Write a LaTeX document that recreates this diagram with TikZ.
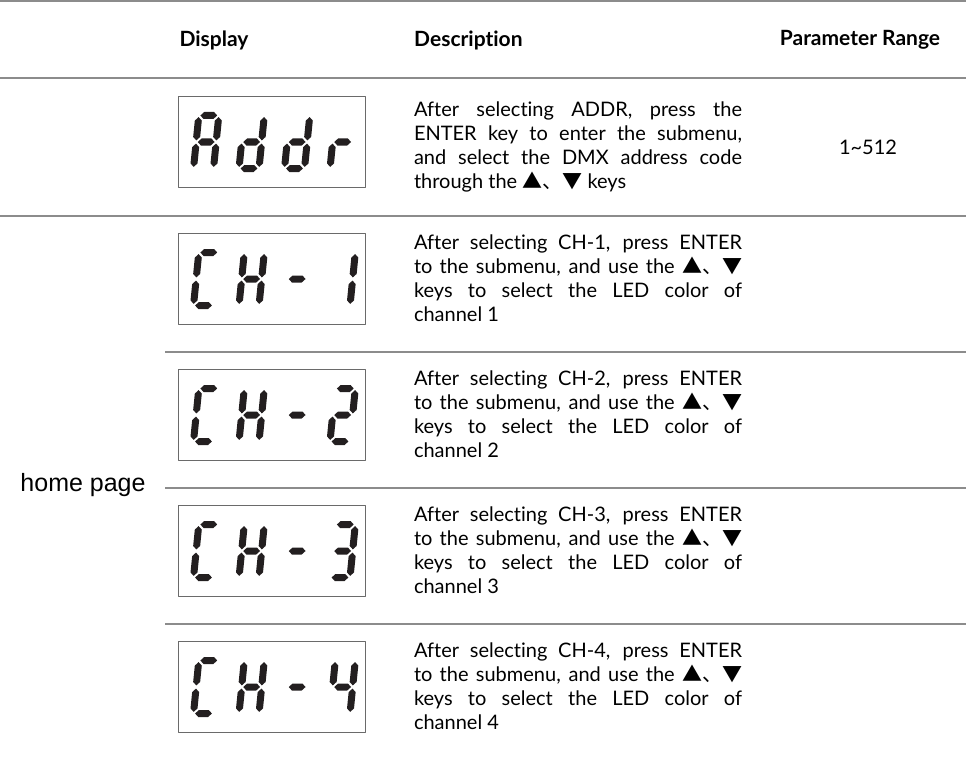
\documentclass[tikz,border=0pt]{standalone}
\usepackage{fontspec}
\setmainfont{Liberation Sans}
\newfontfamily\lat[Ligatures={NoCommon,NoContextual}]{Lato}
\newfontfamily\cjk{Noto Sans CJK SC}
\usepackage{xcolor}
\usetikzlibrary{positioning}

\definecolor{rulegray}{HTML}{8C8C8C}
\definecolor{boxgray}{HTML}{6A6A6A}
\definecolor{segink}{HTML}{231F20}

\newcommand\descfont{\lat\fontsize{20}{24}\selectfont\tolerance=10000 \hbadness=10000 }
\newcommand\updown{{\cjk ▲、▼}}

% one segment: lying (x1, x2, y) or standing (x, y1, y2)
\newcommand\lcdh[3]{\fill[lcdseg] (#1,#3) -- (#1+3.5,#3+3.5) -- (#2-3.5,#3+3.5) -- (#2,#3) -- (#2-3.5,#3-3.5) -- (#1+3.5,#3-3.5) -- cycle;}
\newcommand\lcdv[3]{\fill[lcdseg] (#1,#2) -- (#1+3.5,#2+3.5) -- (#1+3.5,#3-3.5) -- (#1,#3) -- (#1-3.5,#3-3.5) -- (#1-3.5,#2+3.5) -- cycle;}

% the seven segments a--g
\newcommand\lcdsega{\lcdh{1.6}{18.4}{53}}
\newcommand\lcdsegb{\lcdv{20}{28.1}{51.4}}
\newcommand\lcdsegc{\lcdv{20}{1.6}{24.9}}
\newcommand\lcdsegd{\lcdh{1.6}{18.4}{0}}
\newcommand\lcdsege{\lcdv{0}{1.6}{24.9}}
\newcommand\lcdsegf{\lcdv{0}{28.1}{51.4}}
\newcommand\lcdsegg{\lcdh{1.6}{18.4}{26.5}}

% one digit, lower left corner at (#1,#2)
\newcommand\lcdchar[3]{%
  \begin{scope}[shift={(#1,#2)}, yscale=-1, xslant=-0.1]
    \foreach \s in {#3} {\csname lcdseg\s\endcsname}
  \end{scope}}

% a display: name, upper left corner, four digits
\newcommand\lcdpanel[7]{%
  \node[lcdbox, anchor=north west] (#1) at (#2,#3) {};
  \lcdchar{#2+15.5}{#3+72.5}{#4}
  \lcdchar{#2+61}{#3+72.5}{#5}
  \lcdchar{#2+106.5}{#3+72.5}{#6}
  \lcdchar{#2+152}{#3+72.5}{#7}}

\begin{document}
\begin{tikzpicture}[x=1pt, y=-1pt, line join=round,
    rule/.style={draw=rulegray, line width=1.3pt},
    lcdbox/.style={draw=boxgray, line width=1.3pt, minimum width=187pt, minimum height=91pt, inner sep=0pt},
    lcdseg/.style={fill=segink},
    head/.style={font=\lat\bfseries\fontsize{21}{24}\selectfont, inner sep=0pt},
    desc/.style={font=\descfont, text width=328pt, align=justify, inner sep=0pt},
    plain/.style={font=\descfont, inner sep=0pt}]
    \useasboundingbox (0,0) rectangle (966,765);

    % rules
    \draw[rule] (0,1) -- (966,1);
    \draw[rule] (0,78) -- (966,78);
    \draw[rule] (0,216) -- (966,216);
    \foreach \y in {352,488,624}
        \draw[rule] (165,\y) -- (966,\y);

    % header
    \node[head] (hdisplay) at (214,40) {Display};
    \node[head, anchor=west] (hdesc) at (414,40) {Description};
    \node[head] (hrange) at (860,40) {Parameter Range};

    % address row
    \lcdpanel{paddr}{178}{96}{a,b,c,e,f,g}{b,c,d,e,g}{b,c,d,e,g}{e,g}
    \node[desc] (taddr) at (578,147) {After selecting ADDR, press the\linebreak ENTER key to enter the submenu,\linebreak and select the DMX address code\linebreak through the \updown{} keys};
    \node[plain] (raddr) at (868,147) {1\textasciitilde512};

    % channel rows
    \node[font=\fontsize{25}{30}\selectfont, inner sep=0pt] (home) at (83,485) {home page};
    \lcdpanel{pch1}{178}{233}{a,d,e,f}{b,c,e,f,g}{g}{b,c}
    \lcdpanel{pch2}{178}{369}{a,d,e,f}{b,c,e,f,g}{g}{a,b,d,e,g}
    \lcdpanel{pch3}{178}{505}{a,d,e,f}{b,c,e,f,g}{g}{a,b,c,d,g}
    \lcdpanel{pch4}{178}{641}{a,d,e,f}{b,c,e,f,g}{g}{b,c,f,g}
    \foreach \n/\y in {1/216,2/352,3/488,4/624}
        \node[desc] (tch\n) at (578,\y+62) {After selecting CH-\n, press ENTER\linebreak to the submenu, and use the \updown\linebreak keys to select the LED color of\linebreak channel \n};
\end{tikzpicture}
\end{document}
